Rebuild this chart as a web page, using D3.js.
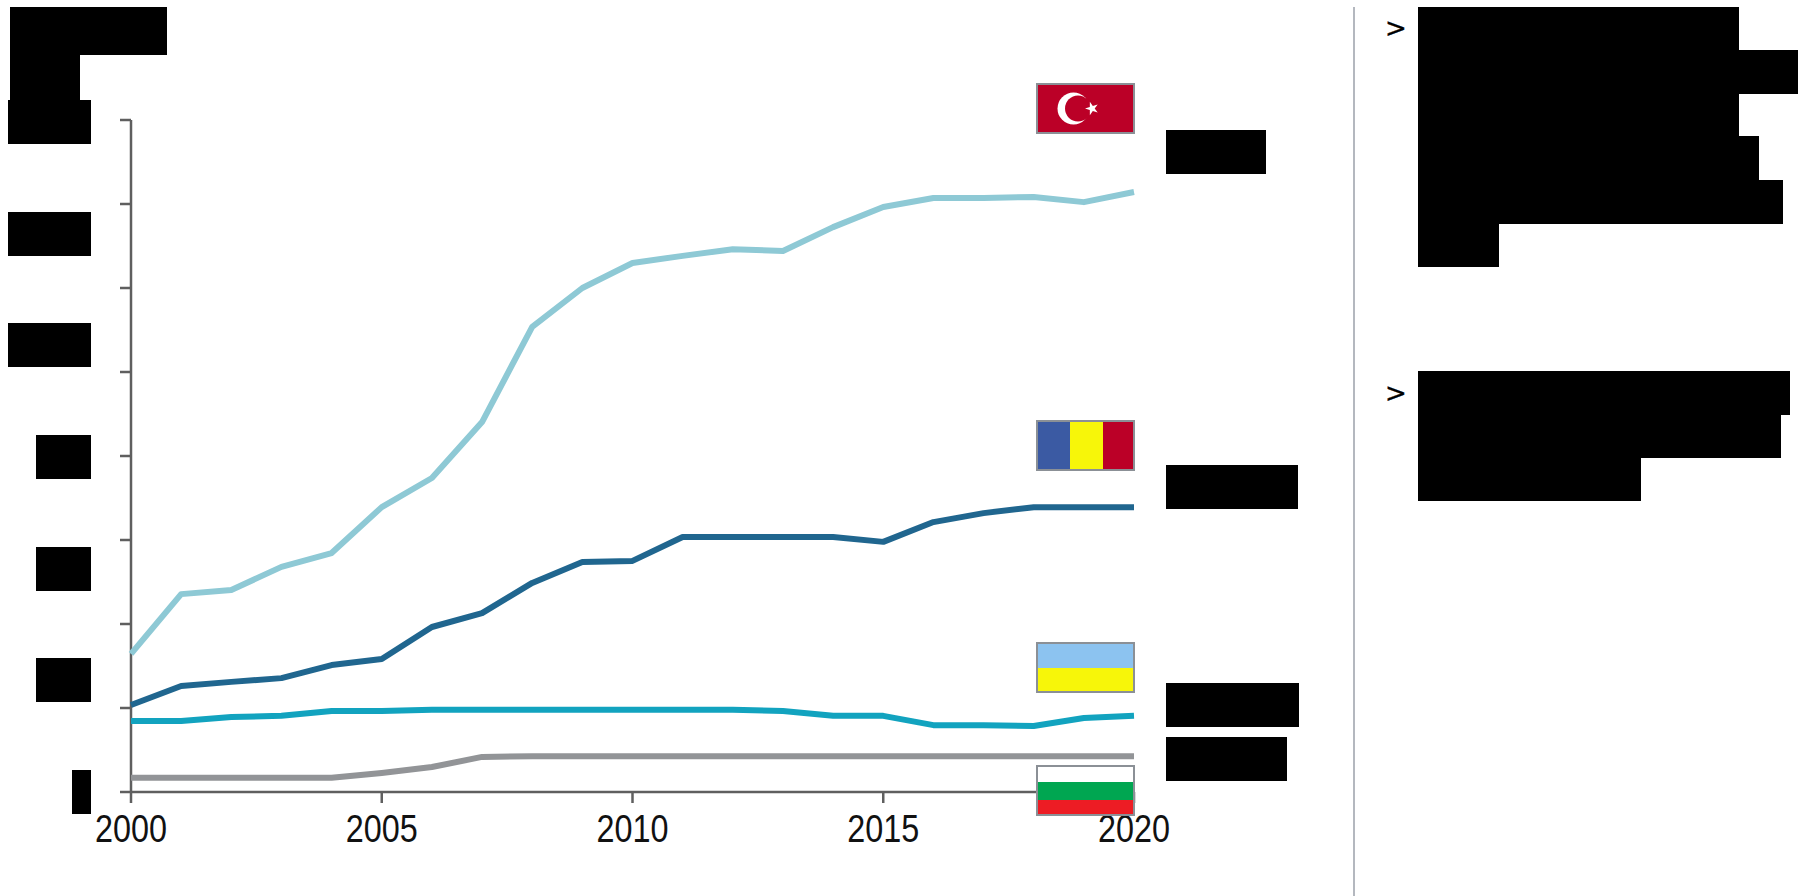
<!DOCTYPE html>
<html>
<head>
<meta charset="utf-8">
<script src="https://cdn.jsdelivr.net/npm/d3@7"></script>
<style>
  html, body { margin: 0; padding: 0; background: #fff; }
  svg { display: block; }
  .axis path, .axis line { stroke: #5f5f5f; stroke-width: 2.5; fill: none; }
  .axis text { font-family: "Liberation Sans", Arial, sans-serif; font-size: 38px; fill: #111; }
  .line { fill: none; stroke-width: 6; stroke-linejoin: round; }
  .chevron { font-family: "DejaVu Sans", sans-serif; font-size: 26px; fill: #000; stroke: #000; stroke-width: 0.4; }
</style>
</head>
<body>
<div id="chart"></div>
<script>
// values
var years = d3.range(2000, 2021);
var turkey = [37.0, 53.0, 54.1, 60.3, 64.0, 76.3, 84.1, 99.1, 124.6, 135.0, 141.7, 143.6, 145.4, 144.9, 151.3, 156.7, 159.1, 159.1, 159.4, 158.0, 160.7];
var romania = [23.3, 28.4, 29.5, 30.5, 34.0, 35.6, 44.2, 47.9, 56.0, 61.6, 61.9, 68.3, 68.3, 68.3, 68.3, 67.0, 72.3, 74.7, 76.3, 76.3, 76.3];
var ukraine = [19.0, 19.0, 20.1, 20.4, 21.7, 21.7, 22.0, 22.0, 22.0, 22.0, 22.0, 22.0, 22.0, 21.7, 20.4, 20.4, 17.9, 17.9, 17.7, 19.8, 20.4];
var bulgaria = [3.8, 3.8, 3.8, 3.8, 3.8, 5.1, 6.7, 9.4, 9.6, 9.6, 9.6, 9.6, 9.6, 9.6, 9.6, 9.6, 9.6, 9.6, 9.6, 9.6, 9.6];
var xTicks = [2000, 2005, 2010, 2015, 2020];
var yTicks = [0, 22.5, 45, 67.5, 90, 112.5, 135, 157.5, 180];

var series = [
  {values: bulgaria, color: '#929497'},
  {values: ukraine, color: '#12a3bf'},
  {values: romania, color: '#20668f'},
  {values: turkey, color: '#8ec9d5'}
];

// the text blocks that are blacked out in the reference
var masks = [
  [10, 7, 157, 48], [10, 55, 70, 45],
  [8, 100, 83, 44], [8, 212, 83, 44], [8, 323, 83, 44],
  [36, 435, 55, 44], [36, 547, 55, 44], [36, 658, 55, 44], [72, 770, 19, 44],
  [1166, 130, 100, 44], [1166, 465, 132, 44], [1166, 683, 133, 44], [1166, 737, 121, 44],
  [1418, 7, 321, 43], [1418, 50, 380, 44], [1418, 94, 321, 42], [1418, 136, 341, 44], [1418, 180, 365, 44], [1418, 224, 81, 43],
  [1418, 371, 372, 44], [1418, 415, 363, 43], [1418, 458, 223, 43]
];

var svg = d3.select('#chart').append('svg')
  .attr('width', 1806)
  .attr('height', 896);

var x = d3.scaleLinear().domain([2000, 2020]).range([131, 1134]);
var y = d3.scaleLinear().domain([0, 180]).range([792, 120]);

// axes
var xAxis = d3.axisBottom(x)
  .tickValues(xTicks)
  .tickFormat(d3.format('d'))
  .tickSize(11)
  .tickSizeOuter(0)
  .offset(0);
var gx = svg.append('g')
  .attr('class', 'axis')
  .attr('transform', 'translate(0,792)')
  .call(xAxis);
gx.selectAll('text')
  .attr('y', 21)
  .attr('dy', '0.75em')
  .attr('textLength', 72)
  .attr('lengthAdjust', 'spacingAndGlyphs');

var yAxis = d3.axisLeft(y)
  .tickValues(yTicks)
  .tickFormat('')
  .tickSize(11)
  .tickSizeOuter(0)
  .offset(0);
svg.append('g')
  .attr('class', 'axis')
  .attr('transform', 'translate(131,0)')
  .call(yAxis);

// lines
var line = d3.line()
  .x(function(d, i) { return x(years[i]); })
  .y(function(d) { return y(d); });

svg.selectAll('.line')
  .data(series)
  .enter().append('path')
  .attr('class', 'line')
  .attr('d', function(d) { return line(d.values); })
  .style('stroke', function(d) { return d.color; });

// flags, drawn as plain stripes
function drawFlag(top, stripes) {
  var g = svg.append('g').attr('transform', 'translate(1037,' + top + ')');
  stripes.forEach(function(s) {
    g.append('rect').attr('x', s[0]).attr('y', s[1]).attr('width', s[2]).attr('height', s[3]).attr('fill', s[4]);
  });
  return g;
}

function flagBorder(g) {
  g.append('rect')
    .attr('width', 97).attr('height', 49)
    .attr('fill', 'none')
    .attr('stroke', '#8b9096')
    .attr('stroke-width', 2);
}

var tr = drawFlag(84, [[0, 0, 97, 49, '#bb0027']]);
tr.append('circle').attr('cx', 36.5).attr('cy', 24.5).attr('r', 16).attr('fill', '#fff');
tr.append('circle').attr('cx', 41).attr('cy', 24.5).attr('r', 13).attr('fill', '#bb0027');
tr.append('path')
  .attr('d', d3.symbol().type(d3.symbolStar).size(55))
  .attr('transform', 'translate(55,24.5) rotate(-90)')
  .attr('fill', '#fff');
flagBorder(tr);

var ro = drawFlag(421, [[0, 0, 33, 49, '#3b5aa3'], [33, 0, 33, 49, '#f7f609'], [66, 0, 31, 49, '#bb0027']]);
flagBorder(ro);

var ua = drawFlag(643, [[0, 0, 97, 25, '#8cc3f0'], [0, 25, 97, 24, '#f7f609']]);
flagBorder(ua);

var bg = drawFlag(766, [[0, 0, 97, 16, '#ffffff'], [0, 16, 97, 18, '#00a651'], [0, 34, 97, 15, '#ed1c24']]);
flagBorder(bg);

// divider and the two bullet marks on the right
svg.append('line')
  .attr('x1', 1354).attr('x2', 1354)
  .attr('y1', 7).attr('y2', 896)
  .attr('stroke', '#b4b8bf')
  .attr('stroke-width', 2);

svg.selectAll('.chevron')
  .data([37, 402])
  .enter().append('text')
  .attr('class', 'chevron')
  .attr('x', 1385)
  .attr('y', function(d) { return d; })
  .text('>');

svg.selectAll('.mask')
  .data(masks)
  .enter().append('rect')
  .attr('class', 'mask')
  .attr('x', function(d) { return d[0]; })
  .attr('y', function(d) { return d[1]; })
  .attr('width', function(d) { return d[2]; })
  .attr('height', function(d) { return d[3]; })
  .attr('fill', '#000');
</script>
</body>
</html>
